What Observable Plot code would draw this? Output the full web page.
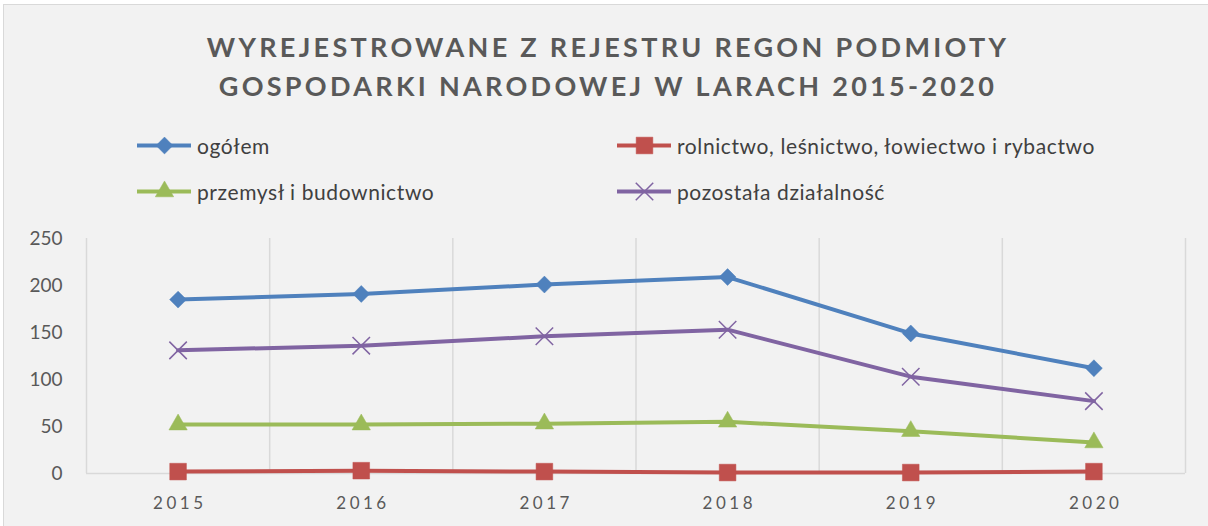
<!DOCTYPE html>
<html><head><meta charset="utf-8">
<script src="https://cdn.jsdelivr.net/npm/d3@7"></script>
<script src="https://cdn.jsdelivr.net/npm/@observablehq/plot@0.6"></script>
<style>
html,body{margin:0;padding:0;background:#fff;width:1208px;height:526px;overflow:hidden;font-family:Lato,"Open Sans",sans-serif;}
#frame{position:absolute;left:3px;top:4px;width:1210px;height:530px;background:#f2f2f2;border:1.5px solid #d9d9d9;box-sizing:border-box;}
#title{position:absolute;left:4px;width:1208px;top:27px;text-align:center;font-weight:bold;font-size:27px;line-height:39px;letter-spacing:3.3px;color:#595959;}
.leg{position:absolute;font-size:21px;letter-spacing:0.6px;color:#404040;display:flex;align-items:center;}
.leg svg{margin-right:6px;}
#chart{position:absolute;left:0;top:215px;}
</style></head>
<body>
<div id="frame"></div>
<div id="title">WYREJESTROWANE Z REJESTRU REGON PODMIOTY<br>GOSPODARKI NARODOWEJ W LARACH 2015-2020</div>
<div id="legend"></div>
<div id="chart"></div>
<script>
const years = [2015, 2016, 2017, 2018, 2019, 2020];
const seriesNames = ["ogółem", "rolnictwo, leśnictwo, łowiectwo i rybactwo", "przemysł i budownictwo", "pozostała działalność"];
const ogolem = [185, 191, 201, 209, 149, 112];
const rolnictwo = [2, 3, 2, 1, 1, 2];
const przemysl = [52, 52, 53, 55, 45, 33];
const pozostala = [131, 136, 146, 153, 103, 77];
const yTicks = [0, 50, 100, 150, 200, 250];

const colors = ["#4f81bd", "#c0504d", "#9bbb59", "#8064a2"];
const symbols = ["diamond2", "square", "triangle", "times"];
const radii = [7.6, 9.4, 6.8, 8];
const valueArrays = [ogolem, rolnictwo, przemysl, pozostala];

const rows = [];
seriesNames.forEach((s, i) => years.forEach((yr, j) => rows.push({series: s, year: yr, value: valueArrays[i][j]})));
const gridX = [years[0] - 0.5, ...years.map(y => y + 0.5)];

const marks = [
  Plot.ruleX(gridX, {x: d => d, y1: 0, y2: 250, stroke: "#d9d9d9", strokeWidth: 1.5}),
  Plot.ruleY([0], {stroke: "#d9d9d9", strokeWidth: 1.5}),
  Plot.axisY({ticks: yTicks, label: null, tickSize: 0, tickPadding: 24, fontSize: 19, fill: "#595959", fontFamily: "Lato"}),
  Plot.axisX({ticks: years, label: null, tickFormat: d => String(d), tickSize: 0, tickPadding: 23, fontSize: 17, fill: "#595959", fontFamily: "Lato"}),
];
seriesNames.forEach((s, i) => {
  const data = rows.filter(r => r.series === s);
  marks.push(Plot.line(data, {x: "year", y: "value", stroke: colors[i], strokeWidth: 4}));
});
seriesNames.forEach((s, i) => {
  const data = rows.filter(r => r.series === s);
  const isStroke = symbols[i] === "times";
  marks.push(Plot.dot(data, {x: "year", y: "value", symbol: () => symbols[i], r: radii[i],
    fill: isStroke ? "none" : colors[i], stroke: colors[i], strokeWidth: isStroke ? 1.5 : 0.5}));
});

const chart = Plot.plot({
  width: 1208, height: 311,
  marginLeft: 86, marginRight: 23, marginTop: 23, marginBottom: 53,
  style: {background: "transparent", overflow: "visible"},
  x: {type: "linear", domain: [years[0] - 0.5, years[years.length - 1] + 0.5], axis: null},
  y: {domain: [0, 250], axis: null},
  symbol: {type: "identity"},
  marks
});
chart.querySelectorAll('g[aria-label="x-axis tick label"] text').forEach(t => {
  t.style.letterSpacing = "3.5px";
  t.setAttribute("dx", "1.75");
});
document.getElementById("chart").appendChild(chart);

// legend
const legPos = [[137, 145], [617, 145], [137, 191], [617, 191]];
const legend = document.getElementById("legend");
seriesNames.forEach((s, i) => {
  const item = document.createElement("div");
  item.className = "leg";
  item.style.left = legPos[i][0] + "px";
  item.style.top = (legPos[i][1] - 13) + "px";
  item.style.height = "26px";
  const sym = Plot.plot({
    width: 54, height: 26, margin: 0,
    x: {domain: [0, 2], axis: null}, y: {domain: [0, 1], axis: null},
    style: {background: "transparent", overflow: "visible"},
    symbol: {type: "identity"},
    marks: [
      Plot.ruleY([0.5], {stroke: colors[i], strokeWidth: 4}),
      Plot.dot([1], {x: d => d, y: () => 0.5, symbol: () => symbols[i], r: radii[i],
        fill: symbols[i] === "times" ? "none" : colors[i], stroke: colors[i], strokeWidth: symbols[i] === "times" ? 1.5 : 0.5})
    ]
  });
  item.appendChild(sym);
  const t = document.createElement("span");
  t.textContent = s;
  item.appendChild(t);
  legend.appendChild(item);
});
</script>
</body></html>
